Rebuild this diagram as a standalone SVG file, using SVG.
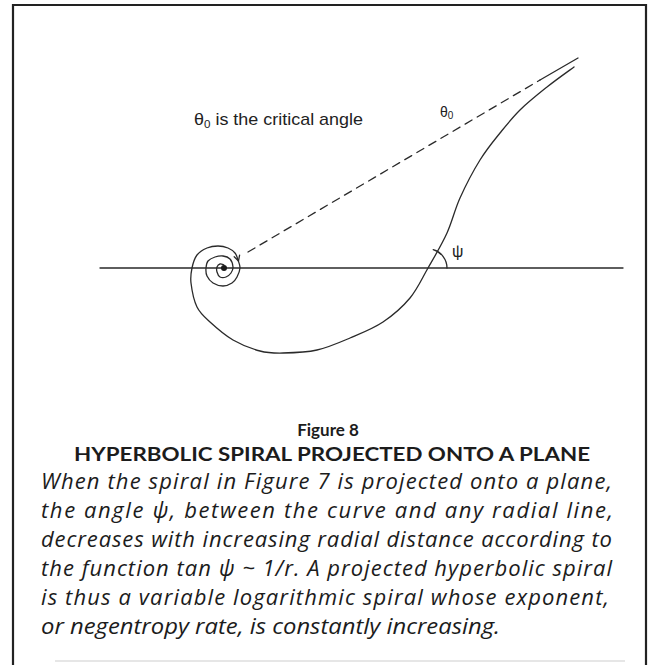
<svg xmlns="http://www.w3.org/2000/svg" width="651" height="665" viewBox="0 0 651 665">
<style>
.ln{fill:none;stroke:#2a2a2a;stroke-width:1.3;stroke-linecap:round;stroke-linejoin:round}
.lbl{font-family:"Liberation Sans",Arial,sans-serif;fill:#222}
.cap{font-family:Lato,"Noto Sans",sans-serif;fill:#1c1c1c}
.body{font-family:"Open Sans","Noto Sans",sans-serif;font-style:italic;font-size:22px;fill:#1c1c1c}
</style>
<rect width="651" height="665" fill="#fff"/>
<g id="frame">
<path d="M13,672 L13,5 L646,5 L646,672" fill="none" stroke="#222" stroke-width="2.2"/>
<line x1="55" y1="661" x2="625" y2="661" stroke="#e6e6e6" stroke-width="2"/>
</g>
<g id="axis">
<line class="ln" x1="100" y1="268" x2="623" y2="268"/>
</g>
<g id="connectors">
<line class="ln" x1="248" y1="252" x2="540" y2="80" stroke-dasharray="8 6"/>
<line class="ln" x1="540" y1="80" x2="578" y2="58" stroke-width="1.6"/>
<path class="ln" d="M447,268 A19,19 0 0 0 433.2,249.7"/>
</g>
<g id="spiral">
<path class="ln" d="M574,67 C569.5,70.3 556,79.8 547,87 C538,94.2 527.8,102.3 520,110 C512.2,117.7 506.7,124.7 500,133 C493.3,141.3 486.7,149.2 480,160 C473.3,170.8 465.5,185.8 460,198 C454.5,210.2 452.3,221.3 447,233 C441.7,244.7 434.2,257.2 428,268 C421.8,278.8 417.5,289 410,298 C402.5,307 393,315.3 383,322 C373,328.7 361,333.3 350,338 C339,342.7 328.2,347.5 317,350 C305.8,352.5 292.5,352.8 283,353 C273.5,353.2 268.3,353.2 260,351 C251.7,348.8 241.3,344.8 233,340 C224.7,335.2 216,327.5 210,322 C204,316.5 200.2,313.5 197,307 C193.8,300.5 191.8,289.5 191,283 C190.2,276.5 191,272.7 192,268 C193,263.3 194.5,258.3 197,255 C199.5,251.7 203.5,249.5 207,248 C210.5,246.5 214.5,246 218,246 C221.5,246 225.2,246.8 228,248 C230.8,249.2 233.3,251 235,253 C236.7,255 237.2,257.5 238,260 C238.8,262.5 240.2,265.2 240,268 C239.8,270.8 238.3,274.5 237,277 C235.7,279.5 234.3,281.5 232,283 C229.7,284.5 226.2,286 223,286 C219.8,286 215.7,284.7 213,283 C210.3,281.3 208.2,278.5 207,276 C205.8,273.5 205.8,270.5 206,268 C206.2,265.5 206.5,262.8 208,261 C209.5,259.2 212.5,257.8 215,257 C217.5,256.2 220.5,255.7 223,256 C225.5,256.3 228.3,257.2 230,259 C231.7,260.8 232.8,264.7 233,267 C233.2,269.3 232.2,271.3 231,273 C229.8,274.7 227.8,276.3 226,277 C224.2,277.7 221.5,277.8 220,277 C218.5,276.2 217.5,273.7 217,272 C216.5,270.3 216.5,268.3 217,267 C217.5,265.7 218.8,264.3 220,264 C221.2,263.7 223.3,264.8 224,265"/>
<path class="ln" d="M234.2,256.8 L238.5,261 L239.6,255.1"/>
<circle cx="224" cy="268" r="3" fill="#1a1a1a"/>
</g>
<g id="labels">
<text class="lbl" x="194" y="125" font-size="17" textLength="169" lengthAdjust="spacingAndGlyphs">θ<tspan font-size="11" dy="3">0</tspan><tspan dy="-3"> is the critical angle</tspan></text>
<text class="lbl" x="440" y="117" font-size="14">θ<tspan font-size="10" dy="2">0</tspan></text>
<text class="lbl" x="452" y="257" font-size="16">ψ</text>
</g>
<g id="caption">
<text class="cap" x="328" y="436" font-size="17" font-weight="bold" text-anchor="middle">Figure 8</text>
<text class="cap" x="74" y="461" font-size="18.5" font-weight="bold" textLength="516" lengthAdjust="spacingAndGlyphs">HYPERBOLIC SPIRAL PROJECTED ONTO A PLANE</text>
<text class="body" x="41" y="489" textLength="571" lengthAdjust="spacing">When the spiral in Figure 7 is projected onto a plane,</text>
<text class="body" x="41" y="518" textLength="572" lengthAdjust="spacing">the angle ψ, between the curve and any radial line,</text>
<text class="body" x="41" y="547" textLength="571" lengthAdjust="spacing">decreases with increasing radial distance according to</text>
<text class="body" x="41" y="576" textLength="571" lengthAdjust="spacing">the function tan ψ ~ 1/r. A projected hyperbolic spiral</text>
<text class="body" x="41" y="605" textLength="568" lengthAdjust="spacing">is thus a variable logarithmic spiral whose exponent,</text>
<text class="body" x="41" y="634" textLength="459" lengthAdjust="spacingAndGlyphs">or negentropy rate, is constantly increasing.</text>
</g>
</svg>
